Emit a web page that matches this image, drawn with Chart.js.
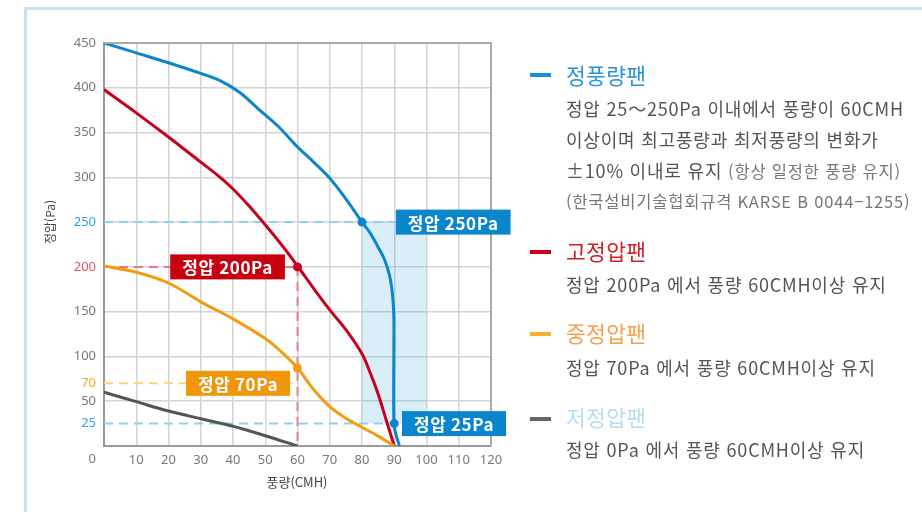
<!DOCTYPE html>
<html lang="ko">
<head>
<meta charset="utf-8">
<script src="https://cdn.jsdelivr.net/npm/chart.js@4.4.1/dist/chart.umd.min.js"></script>
<style>
  html, body { margin: 0; padding: 0; background: #fff; }
  #wrap { position: relative; width: 922px; height: 512px; overflow: hidden; font-family: "Noto Sans CJK KR", "Noto Sans", sans-serif; }
  #frame { position: absolute; left: 24px; top: 7px; right: -10px; bottom: -10px; border-left: 3px solid #c4e5f8; border-top: 3px solid #c4e5f8; }
  #chart { position: absolute; left: 0; top: 0; }
  .mk { position: absolute; left: 530px; width: 21px; height: 4px; }
  .tt { position: absolute; left: 566px; font-size: 21.5px; line-height: 26px; letter-spacing: 0.3px; white-space: nowrap; }
  .ds { position: absolute; left: 566px; font-size: 18px; line-height: 24px; letter-spacing: 0.8px; color: #555; white-space: nowrap; }
  .ds small { font-size: 16.5px; color: #777; }
  .ds.sm { font-size: 16.5px; color: #777; }
</style>
</head>
<body>
<div id="wrap">
  <div id="frame"></div>
  <canvas id="chart" width="922" height="512"></canvas>

  <div class="mk" style="top:73px;background:#1a8fd8"></div>
  <div class="tt" style="top:62px;color:#2a92d8">정풍량팬</div>
  <div class="ds" style="top:96px">정압 25～250Pa 이내에서 풍량이 60CMH</div>
  <div class="ds" style="top:127px">이상이며 최고풍량과 최저풍량의 변화가</div>
  <div class="ds" style="top:158px">±10% 이내로 유지 <small>(항상 일정한 풍량 유지)</small></div>
  <div class="ds sm" style="top:189px">(한국설비기술협회규격 KARSE B 0044−1255)</div>

  <div class="mk" style="top:250px;background:#c8001e"></div>
  <div class="tt" style="top:238px;color:#d0202a">고정압팬</div>
  <div class="ds" style="top:272px">정압 200Pa 에서 풍량 60CMH이상 유지</div>

  <div class="mk" style="top:332px;background:#f7b12a"></div>
  <div class="tt" style="top:320px;color:#f5a04a">중정압팬</div>
  <div class="ds" style="top:355px">정압 70Pa 에서 풍량 60CMH이상 유지</div>

  <div class="mk" style="top:417px;background:#666"></div>
  <div class="tt" style="top:404px;color:#b9dbf2">저정압팬</div>
  <div class="ds" style="top:437px">정압 0Pa 에서 풍량 60CMH이상 유지</div>
</div>
<script>
  // 풍량(CMH) / 정압(Pa)
  const constFlowX = [0, 10, 20, 30, 36, 42, 48, 54, 60, 65, 70, 75, 80, 82.5, 85, 87, 88.5, 89.3, 89.7, 89.9, 89.9, 90.6, 91.6];
  const constFlowY = [450, 439, 428, 416, 408, 395, 376, 357, 334, 317, 299, 276, 250, 238, 222, 208, 191, 174, 158, 140, 25, 12, 0];

  const highX = [0, 10, 20, 30, 35, 40, 45, 50, 55, 60, 65, 70, 75, 80, 82.5, 85, 87.5, 90];
  const highY = [398, 372, 345, 317, 303, 287, 268, 247, 225, 201, 176, 152, 130, 103, 82, 58, 29, 0];

  const midX = [0, 10, 20, 30, 40, 50, 55, 60, 65, 70, 75, 80, 85, 90];
  const midY = [201, 194, 182, 161, 142, 120, 105, 87, 63, 44, 31, 21, 11, 0];

  const lowX = [0, 10, 20, 30, 40, 50, 60];
  const lowY = [60, 49.5, 39, 30.5, 22, 11.5, 0];

  const markX = [80, 90, 60, 60];
  const markY = [250, 25, 200, 87];
  const markColors = ['#0a86cc', '#0a86cc', '#c8001e', '#f39c12'];

  const yTicks = [25, 50, 70, 100, 150, 200, 250, 300, 350, 400, 450];
  const yTickColors = { 25: '#29a3e6', 250: '#29a3e6', 200: '#e0566a', 70: '#f5a623' };

  const bandX = [80, 100];
  const bandTop = [250, 250];
  const bandBottom = 25;

  const callouts = [
    { text: '정압 250Pa', x: 90.5, y: 250, side: 'left', color: '#0a86cc' },
    { text: '정압 25Pa', x: 92.4, y: 25, side: 'left', color: '#0a86cc' },
    { text: '정압 200Pa', x: 56.1, y: 200, side: 'right', color: '#c8000f' },
    { text: '정압 70Pa', x: 57.7, y: 70, side: 'right', color: '#f0960a' },
  ];

  const zip = (xs, ys) => xs.map((x, i) => ({ x, y: ys[i] }));

  function curve(label, xs, ys, color) {
    return { label, data: zip(xs, ys), borderColor: color, borderWidth: 3, pointRadius: 0, tension: 0.35, fill: false };
  }

  function guide(points, color) {
    return { data: points, borderColor: color, borderWidth: 2, borderDash: [9, 6], pointRadius: 0, tension: 0, fill: false };
  }

  const datasets = [
    { data: zip(markX, markY), showLine: false, pointRadius: 4.5, pointBackgroundColor: markColors, pointBorderWidth: 0 },
    curve('저정압팬', lowX, lowY, '#555555'),
    curve('중정압팬', midX, midY, '#f39c12'),
    curve('고정압팬', highX, highY, '#c8001e'),
    curve('정풍량팬', constFlowX, constFlowY, '#0a86cc'),
    guide([{ x: 60, y: 200 }, { x: 60, y: 0 }], '#e88090'),
    guide([{ x: 0, y: 200 }, { x: 60, y: 200 }], '#e67888'),
    guide([{ x: 0, y: 70 }, { x: 60, y: 70 }], '#ffd27a'),
    guide([{ x: 0, y: 250 }, { x: 90.5, y: 250 }], '#8dd0f2'),
    guide([{ x: 0, y: 25 }, { x: 92.4, y: 25 }], '#8dd0f2'),
    { data: zip(bandX, bandTop), borderWidth: 0, pointRadius: 0, fill: { value: bandBottom }, backgroundColor: 'rgba(70,170,230,0.2)' },
  ];

  const extras = {
    id: 'extras',
    afterDatasetsDraw(chart) {
      const { ctx, chartArea: a, scales: { x, y } } = chart;
      ctx.save();
      ctx.strokeStyle = '#aaa';
      ctx.lineWidth = 2;
      ctx.beginPath();
      ctx.moveTo(a.left, a.top);
      ctx.lineTo(a.right, a.top);
      ctx.lineTo(a.right, a.bottom);
      ctx.stroke();

      ctx.font = 'bold 17px "Noto Sans CJK KR", sans-serif';
      ctx.letterSpacing = '0.6px';
      ctx.textBaseline = 'middle';
      callouts.forEach(c => {
        const w = ctx.measureText(c.text).width + 24;
        const px = x.getPixelForValue(c.x);
        const py = y.getPixelForValue(c.y);
        const left = c.side === 'left' ? px : px - w;
        ctx.fillStyle = c.color;
        ctx.fillRect(left, py - 12.5, w, 25);
        ctx.fillStyle = '#fff';
        ctx.textAlign = 'center';
        ctx.fillText(c.text, left + w / 2, py + 1);
      });
      ctx.restore();
    },
    afterDraw(chart) {
      const { ctx } = chart;
      ctx.save();
      ctx.fillStyle = '#777';
      ctx.font = '13px "Noto Sans", sans-serif';
      ctx.textAlign = 'right';
      ctx.textBaseline = 'middle';
      ctx.fillText('0', 96, 459);
      ctx.fillStyle = '#444';
      ctx.font = '13px "Noto Sans CJK KR", sans-serif';
      ctx.textAlign = 'center';
      ctx.fillText('풍량(CMH)', 297, 482);
      ctx.translate(50, 222);
      ctx.rotate(-Math.PI / 2);
      ctx.font = '12px "Noto Sans CJK KR", sans-serif';
      ctx.fillText('정압(Pa)', 0, 0);
      ctx.restore();
    },
  };

  new Chart(document.getElementById('chart'), {
    type: 'line',
    data: { datasets },
    options: {
      responsive: false,
      animation: false,
      layout: { padding: { left: 0, top: 43, right: 431, bottom: 0 } },
      plugins: { legend: { display: false }, tooltip: { enabled: false } },
      scales: {
        x: {
          type: 'linear', min: 0, max: 120,
          afterFit: s => { s.height = 66; },
          ticks: { stepSize: 10, padding: 6, color: '#777', font: { family: 'Noto Sans', size: 13 }, callback: v => (v === 0 ? '' : v) },
          grid: { drawTicks: false, lineWidth: 1.5, color: c => (c.tick.value === 0 || c.tick.value === 120 ? 'transparent' : '#d4d4d4') },
          border: { color: '#999', width: 2 },
        },
        y: {
          type: 'linear', min: 0, max: 450,
          afterFit: s => { s.width = 104; },
          afterBuildTicks: s => { s.ticks = yTicks.map(v => ({ value: v })); },
          ticks: { padding: 8, color: c => yTickColors[c.tick.value] || '#777', font: { family: 'Noto Sans', size: 13 } },
          grid: { drawTicks: false, lineWidth: 1.5, color: c => ([25, 70, 450].includes(c.tick.value) ? 'transparent' : '#d4d4d4') },
          border: { color: '#999', width: 2 },
        },
      },
    },
    plugins: [extras],
  });
</script>
</body>
</html>
